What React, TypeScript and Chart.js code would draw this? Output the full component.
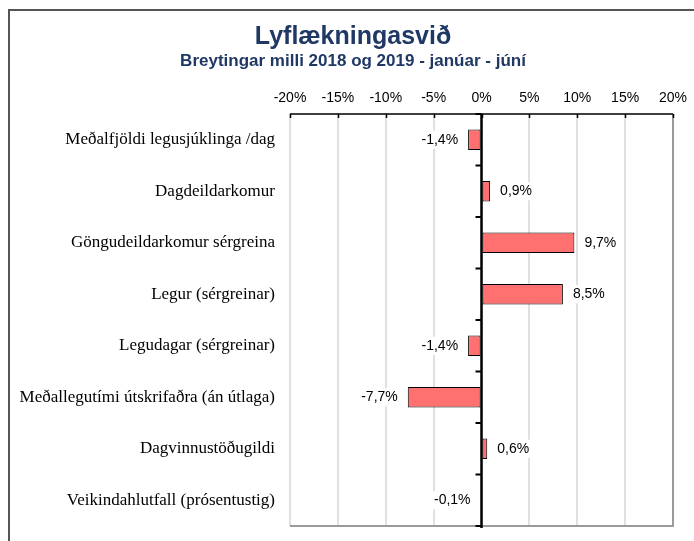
import React, { useEffect, useRef } from 'react';
import { Chart, registerables } from 'chart.js';

Chart.register(...registerables);

const titleText = 'Lyflækningasvið';
const subtitleText = 'Breytingar milli 2018 og 2019 - janúar - júní';

const categories = [
  'Meðalfjöldi legusjúklinga /dag',
  'Dagdeildarkomur',
  'Göngudeildarkomur sérgreina',
  'Legur (sérgreinar)',
  'Legudagar (sérgreinar)',
  'Meðallegutími útskrifaðra (án útlaga)',
  'Dagvinnustöðugildi',
  'Veikindahlutfall (prósentustig)',
];

const changeValues = [-1.4, 0.9, 9.7, 8.5, -1.4, -7.7, 0.6, -0.1];

const xMin = -20;
const xMax = 20;
const xStep = 5;

const fmtValue = (v: number) => v.toFixed(1).replace('.', ',') + '%';

const decorPlugin = {
  id: 'decor',
  beforeDraw(chart: any) {
    const ctx = chart.ctx;
    ctx.save();
    ctx.fillStyle = '#ffffff';
    ctx.fillRect(0, 0, chart.width, chart.height);
    ctx.strokeStyle = '#555555';
    ctx.lineWidth = 2;
    ctx.beginPath();
    ctx.moveTo(9, chart.height);
    ctx.lineTo(9, 10);
    ctx.lineTo(chart.width, 10);
    ctx.stroke();
    ctx.restore();
  },
  afterDatasetsDraw(chart: any) {
    const ctx = chart.ctx;
    const area = chart.chartArea;
    const xs = chart.scales.x;
    const ys = chart.scales.y;
    ctx.save();
    // right & bottom plot borders
    ctx.strokeStyle = '#9a9a9a';
    ctx.lineWidth = 2;
    ctx.beginPath();
    ctx.moveTo(area.right, area.top);
    ctx.lineTo(area.right, area.bottom);
    ctx.lineTo(area.left, area.bottom);
    ctx.stroke();
    // top axis line & ticks
    ctx.strokeStyle = '#000000';
    ctx.lineWidth = 1.5;
    ctx.beginPath();
    ctx.moveTo(area.left, area.top);
    ctx.lineTo(area.right, area.top);
    for (let v = xMin; v <= xMax; v += xStep) {
      const px = Math.round(xs.getPixelForValue(v)) + 0.5;
      ctx.moveTo(px, area.top);
      ctx.lineTo(px, area.top + 4);
    }
    ctx.stroke();
    // zero line
    const x0 = xs.getPixelForValue(0);
    ctx.lineWidth = 2.5;
    ctx.beginPath();
    ctx.moveTo(x0, area.top);
    ctx.lineTo(x0, area.bottom + 2);
    ctx.stroke();
    // category boundary ticks
    ctx.lineWidth = 2;
    ctx.beginPath();
    const n = categories.length;
    for (let k = 0; k <= n; k++) {
      const y = area.top + ((area.bottom - area.top) * k) / n;
      ctx.moveTo(x0 - 6, y);
      ctx.lineTo(x0, y);
    }
    ctx.stroke();
    // data labels
    ctx.font = '14px "Liberation Sans", Arial, sans-serif';
    ctx.textBaseline = 'middle';
    const meta = chart.getDatasetMeta(0);
    meta.data.forEach((bar: any, i: number) => {
      const v = changeValues[i];
      const txt = fmtValue(v);
      const w = ctx.measureText(txt).width;
      const y = ys.getPixelForValue(i);
      const end = xs.getPixelForValue(v);
      let left: number;
      if (v >= 0) {
        left = end + 10;
      } else {
        left = end - 10 - w;
      }
      ctx.fillStyle = '#ffffff';
      ctx.fillRect(left - 2, y - 9, w + 4, 18);
      ctx.fillStyle = '#000000';
      ctx.textAlign = 'left';
      ctx.fillText(txt, left, y);
    });
    ctx.restore();
  },
};

export default function App() {
  const canvasRef = useRef<HTMLCanvasElement | null>(null);

  useEffect(() => {
    document.body.style.margin = '0';
    const canvas = canvasRef.current;
    if (!canvas) return;
    const chart = new Chart(canvas, {
      type: 'bar',
      data: {
        labels: categories,
        datasets: [
          {
            data: changeValues,
            backgroundColor: '#FF7070',
            borderColor: '#000000',
            borderWidth: 1,
            borderSkipped: false,
            barPercentage: 0.4,
            categoryPercentage: 1,
          },
        ],
      },
      options: {
        indexAxis: 'y',
        responsive: false,
        animation: false,
        devicePixelRatio: 1,
        layout: { padding: { top: 10, left: 12, right: 0, bottom: 15 } },
        plugins: {
          legend: { display: false },
          tooltip: { enabled: false },
          title: {
            display: true,
            text: titleText,
            color: '#1F3864',
            font: { family: '"Liberation Sans", Arial, sans-serif', size: 25, weight: 'bold', lineHeight: 1 },
            padding: { top: 15, bottom: 0 },
          },
          subtitle: {
            display: true,
            text: subtitleText,
            color: '#1F3864',
            font: { family: '"Liberation Sans", Arial, sans-serif', size: 17, weight: 'bold', lineHeight: 1.2 },
            padding: { top: 1, bottom: 0 },
          },
        },
        scales: {
          x: {
            position: 'top',
            min: xMin,
            max: xMax,
            grid: { color: '#e0e0e0', lineWidth: 2, drawTicks: false },
            border: { display: false },
            ticks: {
              stepSize: xStep,
              padding: 7,
              color: '#000000',
              font: { family: '"Liberation Sans", Arial, sans-serif', size: 14 },
              callback: (v: any) => `${v}%`,
            },
            afterFit: (scale: any) => {
              scale.height = 42.6;
              scale.paddingLeft = 0;
              scale.paddingRight = 21;
            },
          },
          y: {
            grid: { display: false, drawTicks: false },
            border: { display: false },
            ticks: {
              padding: 15,
              color: '#000000',
              font: { family: '"Liberation Serif", "Times New Roman", serif', size: 17 },
            },
            afterFit: (scale: any) => {
              scale.width = 278;
              scale.paddingTop = 0;
              scale.paddingBottom = 0;
            },
          },
        },
      },
      plugins: [decorPlugin],
    } as any);
    return () => chart.destroy();
  }, []);

  return (
    <div style={{ width: 694, height: 541 }}>
      <canvas ref={canvasRef} width={694} height={541} style={{ display: 'block' }} />
    </div>
  );
}
